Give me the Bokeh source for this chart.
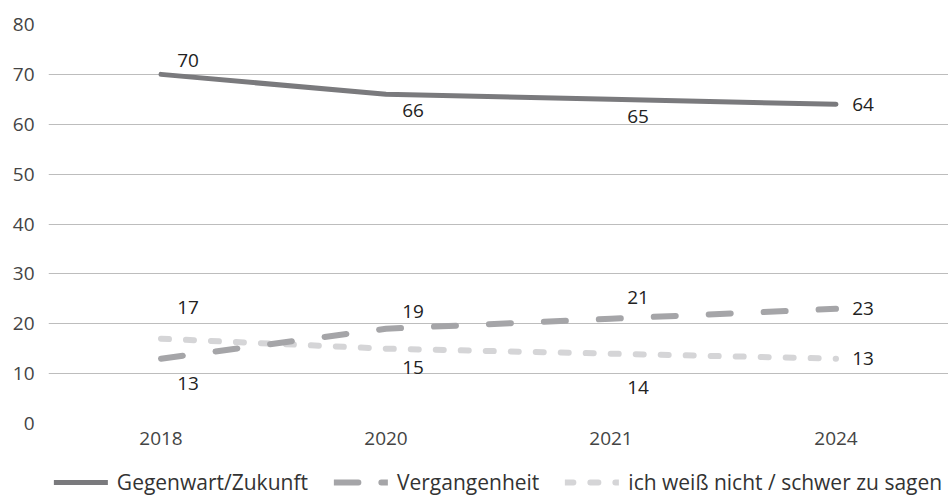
from bokeh.plotting import figure
from bokeh.layouts import column
from bokeh.models import ColumnDataSource, Legend, LegendItem, FixedTicker, FactorRange, Range1d
from bokeh.core.properties import value
from bokeh.embed import file_html
from bokeh.resources import INLINE

years = ["2018", "2020", "2021", "2024"]
gegenwart = [70, 66, 65, 64]
vergangenheit = [13, 19, 21, 23]
weiss_nicht = [17, 15, 14, 13]
series_names = ["Gegenwart/Zukunft", "Vergangenheit", "ich weiß nicht / schwer zu sagen"]
y_ticks = [0, 10, 20, 30, 40, 50, 60, 70, 80]

FONT = "Open Sans"
C_G, C_V, C_W = "#7a7a7d", "#a5a5a8", "#d5d5d7"
STY_G = dict(line_color=C_G, line_width=5, line_cap="round", line_join="round")
STY_V = dict(line_color=C_V, line_width=6, line_cap="round", line_dash="22 33")
STY_W = dict(line_color=C_W, line_width=6, line_cap="round", line_dash="8 17")

p = figure(x_range=FactorRange(*years), y_range=Range1d(0, 80),
           width=948, height=466, output_backend="svg", toolbar_location=None,
           min_border_left=48, min_border_right=0, min_border_top=24, min_border_bottom=43)
p.outline_line_color = None
p.background_fill_color = "white"
p.border_fill_color = "white"

p.xgrid.grid_line_color = None
p.ygrid.grid_line_color = "#bdbdbd"
p.ygrid.grid_line_width = 1
p.yaxis.ticker = FixedTicker(ticks=y_ticks)
for ax in (p.xaxis[0], p.yaxis[0]):
    ax.axis_line_color = None
    ax.major_tick_line_color = None
    ax.minor_tick_line_color = None
    ax.major_tick_out = 0
    ax.major_tick_in = 0
    ax.major_label_text_font = FONT
    ax.major_label_text_font_size = "19px"
    ax.major_label_text_color = "#444444"
p.yaxis.major_label_standoff = 14
p.xaxis.major_label_standoff = 8

src = ColumnDataSource(dict(x=years, g=gegenwart, v=vergangenheit, w=weiss_nicht))

r_w = p.line("x", "w", source=src, **STY_W)
r_v = p.line("x", "v", source=src, **STY_V)
r_g = p.line("x", "g", source=src, **STY_G)

# data labels (offsets are styling)
lbl_x = years * 3
lbl_y = gegenwart + vergangenheit + weiss_nicht
lbl_t = [str(v) for v in lbl_y]
x_off = [27, 27, 27, 27] * 3
y_off = [-14, 16, 17, 0,
         25, -17, -21, 0,
         -31, 19, 34, 0]
lsrc = ColumnDataSource(dict(x=lbl_x, y=lbl_y, t=lbl_t, xo=x_off, yo=y_off))
p.text("x", "y", text="t", source=lsrc, x_offset="xo", y_offset="yo",
       text_font=value(FONT), text_font_size="19px", text_color="#222222",
       text_align="center", text_baseline="middle")

# legend strip below the chart (same series, drawn outside its visible y range)
lg = figure(width=948, height=32, output_backend="svg", toolbar_location=None,
            x_range=FactorRange(*years), y_range=Range1d(100, 101),
            x_axis_location=None, y_axis_location=None,
            min_border_left=0, min_border_right=0, min_border_top=0, min_border_bottom=0)
lg.grid.visible = False
lg.outline_line_color = None
lg.border_fill_color = "white"
k_g = lg.line("x", "g", source=src, **STY_G)
k_v = lg.line("x", "v", source=src, line_color=C_V, line_width=6, line_cap="round", line_dash="24 23")
k_w = lg.line("x", "w", source=src, **STY_W)
legend = Legend(items=[LegendItem(label=series_names[0], renderers=[k_g]),
                       LegendItem(label=series_names[1], renderers=[k_v]),
                       LegendItem(label=series_names[2], renderers=[k_w])],
                orientation="horizontal", location="center",
                label_text_font=FONT, label_text_font_size="21px", label_text_color="#333333",
                glyph_width=54, glyph_height=20, label_standoff=9, spacing=26,
                border_line_color=None, background_fill_alpha=0,
                padding=0, margin=0)
lg.add_layout(legend)

layout = column(p, lg, spacing=0)
open("out.html", "w").write(file_html(layout, INLINE))
